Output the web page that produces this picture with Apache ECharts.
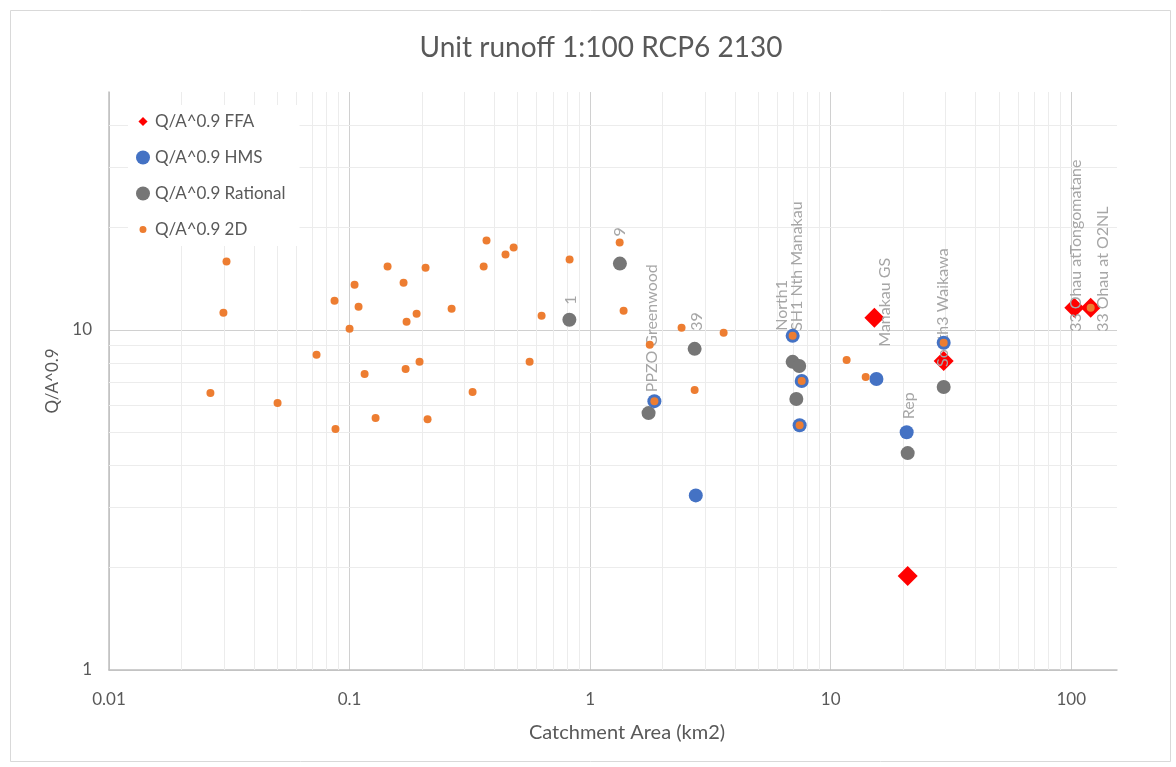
<!DOCTYPE html>
<html><head><meta charset="utf-8">
<script src="https://cdn.jsdelivr.net/npm/echarts@6/dist/echarts.min.js"></script>
<style>html,body{margin:0;padding:0;background:#fff}#c{width:1176px;height:767px}</style>
</head><body><div id="c"></div>
<script>
// ---------- DATA ----------
const chartTitle = 'Unit runoff 1:100 RCP6 2130';
const xAxisName = 'Catchment Area (km2)';
const yAxisName = 'Q/A^0.9';
const seriesNames = ['Q/A^0.9 FFA', 'Q/A^0.9 HMS', 'Q/A^0.9 Rational', 'Q/A^0.9 2D'];

const ffaX = [15.2, 20.9, 29.5, 103, 120.5];
const ffaY = [10.85, 1.89, 8.1, 11.6, 11.6];

const hmsX = [1.85, 2.75, 6.95, 7.58, 7.43, 15.5, 20.7, 29.5];
const hmsY = [6.17, 3.26, 9.6, 7.07, 5.24, 7.17, 5.0, 9.16];

const ratX = [0.82, 1.33, 1.75, 2.72, 6.95, 7.4, 7.2, 20.9, 29.5];
const ratY = [10.7, 15.65, 5.69, 8.79, 8.05, 7.83, 6.26, 4.34, 6.79];

const d2X = [0.0264, 0.0308, 0.0299, 0.0502, 0.0729, 0.0874, 0.0866, 0.1049, 0.109, 0.1,
             0.1155, 0.1283, 0.1439, 0.1677, 0.207, 0.371, 0.445, 0.481, 0.361, 0.2656,
             0.19, 0.1726, 0.8217, 0.6285, 0.1954, 0.171, 0.5604, 0.3247, 0.211, 1.327,
             1.378, 2.40, 3.59, 1.77, 2.72, 1.85, 6.95, 7.58, 7.43, 11.65,
             13.98, 29.5, 120.5];
const d2Y = [6.52, 15.87, 11.22, 6.09, 8.44, 5.11, 12.17, 13.57, 11.69, 10.07,
             7.42, 5.5, 15.34, 13.76, 15.23, 18.3, 16.64, 17.46, 15.34, 11.53,
             11.15, 10.56, 16.09, 11.0, 8.05, 7.67, 8.05, 6.56, 5.46, 18.06,
             11.38, 10.14, 9.8, 9.03, 6.65, 6.17, 9.6, 7.07, 5.24, 8.15,
             7.27, 9.16, 11.6];

// point data labels: text, series key, point index
const labelTexts  = ['1', '9', 'PPZO Greenwood', '39', 'North1', 'SH1 Nth Manakau', 'Manakau GS', 'Rep', 'South3 Waikawa', '33 Ohau atTongomatane', '33 Ohau at O2NL'];
const labelSeries = ['rat', 'd2', 'hms', 'rat', 'hms', 'rat', 'ffa', 'hms', 'rat', 'ffa', 'ffa'];
const labelIndex  = [0, 29, 0, 3, 2, 4, 0, 6, 8, 3, 4];

const xTickLabels = ['0.01', '0.1', '1', '10', '100'];
const yTickLabels = ['1', '10'];
const xMin = 0.01, xMax = 155, yMin = 1, yMax = 50;

// ---------- STYLE ----------
const FONT = 'Lato, "Open Sans", sans-serif';
const TXT = '#595959';
const sizes = {ffa: 20, hms: 14, rat: 14, d2: 8};
const colors = {ffa: '#ff0000', hms: '#4472c4', rat: '#767676', d2: '#ed7d31'};
// anchor offset of each data label (bottom of rotated text) from its point centre, px
const labelOffsets = [[1,-15],[0,-6],[-3,-9],[2,-18],[-11,-5],[4,-31],[10,29],[2,-13],[-1,-20],[2,24],[12,24]];

// ---------- BUILD ----------
function pts(xs, ys) { return xs.map((x, i) => ({value: [x, ys[i]]})); }
const data = {ffa: pts(ffaX, ffaY), hms: pts(hmsX, hmsY), rat: pts(ratX, ratY), d2: pts(d2X, d2Y)};
labelTexts.forEach((t, i) => {
  const key = labelSeries[i], s = sizes[key], off = labelOffsets[i];
  data[key][labelIndex[i]].label = {
    show: true, formatter: t, rotate: 90, align: 'left', verticalAlign: 'middle',
    position: [s / 2 + off[0], s / 2 + off[1]],
    color: '#a6a6a6', fontSize: 16, fontFamily: FONT
  };
});

function minorLines(min, max) {
  const out = [];
  for (let e = Math.round(Math.log10(min)); Math.pow(10, e) < max; e++) {
    for (let k = 2; k <= 9; k++) {
      const v = k * Math.pow(10, e);
      if (v > min && v < max) out.push(v);
    }
  }
  return out;
}
function tickFmt(labels) {
  return v => labels.find(l => Math.abs(parseFloat(l) / v - 1) < 1e-6) || '';
}

const chart = echarts.init(document.getElementById('c'), null, {renderer: 'canvas'});
chart.setOption({
  animation: false,
  backgroundColor: '#fff',
  graphic: [{type: 'rect', left: 8, top: 8, shape: {width: 1160, height: 751}, style: {fill: 'none', stroke: '#d9d9d9', lineWidth: 1}, silent: true}],
  title: {text: chartTitle, left: 596, top: 29, textAlign: 'center',
    textStyle: {fontFamily: FONT, fontSize: 28, fontWeight: 'normal', color: TXT}},
  legend: {
    orient: 'vertical', left: 128, top: 105, itemWidth: 14, itemHeight: 14, itemGap: 19,
    padding: [8, 14, 8, 8], backgroundColor: '#ffffff', z: 6,
    textStyle: {fontFamily: FONT, fontSize: 17, color: TXT},
    data: [
      {name: seriesNames[0], icon: 'path://M0 0M20 20M10 3.5L16.5 10L10 16.5L3.5 10Z'},
      {name: seriesNames[1], icon: 'circle'},
      {name: seriesNames[2], icon: 'circle'},
      {name: seriesNames[3], icon: 'path://M0 0M20 20M10 5A5 5 0 1 1 9.99 5Z'}
    ]
  },
  grid: {left: 109, right: 59, top: 92, bottom: 97, containLabel: false},
  xAxis: {
    type: 'log', logBase: 10, min: xMin, max: xMax,
    name: xAxisName, nameLocation: 'middle', nameGap: 53,
    nameTextStyle: {fontFamily: FONT, fontSize: 20, color: TXT, padding: [0, 0, 0, 28]},
    axisLine: {show: true, lineStyle: {color: '#bfbfbf', width: 1.5}},
    axisTick: {show: false},
    axisLabel: {formatter: tickFmt(xTickLabels), margin: 21, fontFamily: FONT, fontSize: 17, color: TXT, showMaxLabel: false},
    splitLine: {show: true, showMaxLine: false, lineStyle: {color: '#d0d0d0', width: 1}}
  },
  yAxis: {
    type: 'log', logBase: 10, min: yMin, max: yMax,
    name: yAxisName, nameLocation: 'middle', nameGap: 46,
    nameTextStyle: {fontFamily: FONT, fontSize: 17, color: TXT},
    axisLine: {show: true, lineStyle: {color: '#bfbfbf', width: 1.5}},
    axisTick: {show: false},
    axisLabel: {formatter: tickFmt(yTickLabels), margin: 17, fontFamily: FONT, fontSize: 17, color: TXT, showMaxLabel: false},
    splitLine: {show: true, showMaxLine: false, lineStyle: {color: '#d0d0d0', width: 1}}
  },
  series: [
    {name: '_minor', type: 'scatter', data: [], z: 1, silent: true,
      markLine: {silent: true, z: 1, symbol: ['none', 'none'], animation: false, label: {show: false},
        lineStyle: {color: '#ececec', type: 'solid', width: 1},
        emphasis: {disabled: true},
        data: minorLines(xMin, xMax).map(v => ({xAxis: v})).concat(minorLines(yMin, yMax).map(v => ({yAxis: v})))}},
    {name: seriesNames[0], type: 'scatter', symbol: 'diamond', symbolSize: sizes.ffa, z: 2,
      itemStyle: {color: colors.ffa, opacity: 1}, data: data.ffa},
    {name: seriesNames[2], type: 'scatter', symbol: 'circle', symbolSize: sizes.rat, z: 3,
      itemStyle: {color: colors.rat, opacity: 1}, data: data.rat},
    {name: seriesNames[1], type: 'scatter', symbol: 'circle', symbolSize: sizes.hms, z: 4,
      itemStyle: {color: colors.hms, opacity: 1}, data: data.hms},
    {name: seriesNames[3], type: 'scatter', symbol: 'circle', symbolSize: sizes.d2, z: 5,
      itemStyle: {color: colors.d2, opacity: 1}, data: data.d2}
  ]
});
</script></body></html>
